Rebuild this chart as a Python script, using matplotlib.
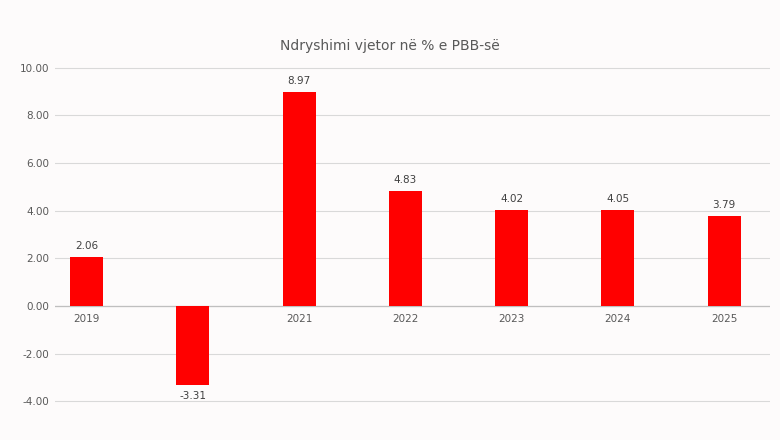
import matplotlib.pyplot as plt

years = ["2019", "2020", "2021", "2022", "2023", "2024", "2025"]
values = [2.06, -3.31, 8.97, 4.83, 4.02, 4.05, 3.79]
yticks = [-4, -2, 0, 2, 4, 6, 8, 10]

fig = plt.figure(figsize=(7.8, 4.4), dpi=100)
fig.patch.set_facecolor("#fdfbfb")
ax = fig.add_axes([0.07, 0.061, 0.917, 0.812])
ax.set_facecolor("#fdfbfb")

x = range(len(years))
bars = ax.bar(x, values, width=0.31, color="#ff0000", zorder=3)

ax.set_ylim(-4.5, 10.5)
ax.set_xlim(-0.30, len(years) - 1 + 0.43)
ax.set_yticks(yticks)
ax.set_yticklabels([f"{v:.2f}" for v in yticks], fontsize=7.5, color="#595959")
ax.set_xticks([])
ax.tick_params(axis="y", length=0, pad=4)
ax.grid(axis="y", color="#d9d9d9", linewidth=0.8, zorder=0)
ax.axhline(0, color="#bfbfbf", linewidth=0.9, zorder=2)
for s in ax.spines.values():
    s.set_visible(False)

for i, (y, v) in enumerate(zip(years, values)):
    ax.text(i, -0.35, y, ha="center", va="top", fontsize=7.5, color="#595959", zorder=2)
    if v >= 0:
        ax.text(i, v + 0.25, f"{v:.2f}", ha="center", va="bottom", fontsize=7.5, color="#404040")
    else:
        ax.text(i, v - 0.25, f"{v:.2f}", ha="center", va="top", fontsize=7.5, color="#404040")

fig.text(0.5, 0.895, "Ndryshimi vjetor në % e PBB-së", ha="center", va="center",
         fontsize=10, color="#595959")

fig.savefig("out.png", dpi=100, facecolor=fig.get_facecolor())
